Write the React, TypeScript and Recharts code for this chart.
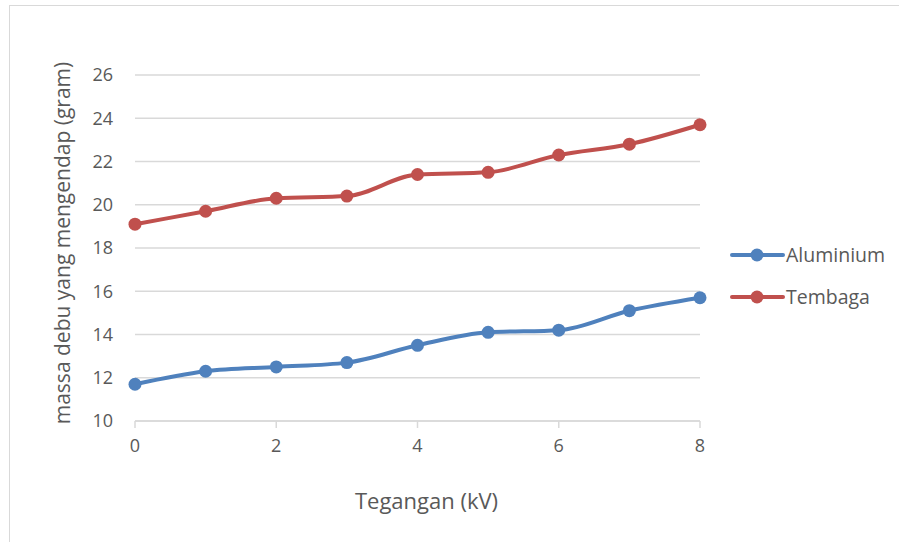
import React from "react";
import { LineChart, Line, XAxis, YAxis, CartesianGrid } from "recharts";

// Voltage (kV) steps
const voltages = [0, 1, 2, 3, 4, 5, 6, 7, 8];
// Settled dust mass (gram) per plate material
const aluminium = [11.7, 12.3, 12.5, 12.7, 13.5, 14.1, 14.2, 15.1, 15.7];
const tembaga = [19.1, 19.7, 20.3, 20.4, 21.4, 21.5, 22.3, 22.8, 23.7];
const xTicks = [0, 2, 4, 6, 8];
const yTicks = [10, 12, 14, 16, 18, 20, 22, 24, 26];

const seriesNames = ["Aluminium", "Tembaga"];
const colors = ["#4F81BD", "#C0504D"];

const data = voltages.map((v, i) => ({
  v,
  Aluminium: aluminium[i],
  Tembaga: tembaga[i],
}));

const FONT = "'Open Sans', sans-serif";
const TEXT = "#595959";

const LegendBox = () => (
  <svg width={170} height={80} style={{ position: "absolute", left: 729, top: 238 }}>
    {seriesNames.map((name, i) => {
      const y = 17 + i * 42;
      return (
        <g key={name}>
          <line x1={3} x2={54} y1={y} y2={y} stroke={colors[i]} strokeWidth={4} strokeLinecap="round" />
          <circle cx={28} cy={y} r={6.5} fill={colors[i]} />
          <text x={57} y={y} dy="0.36em" fontSize={19.5} fill={TEXT} fontFamily={FONT}>
            {name}
          </text>
        </g>
      );
    })}
  </svg>
);

export default function App() {
  return (
    <div
      style={{
        position: "absolute",
        left: 0,
        top: 0,
        width: 899,
        height: 542,
        background: "#fff",
        fontFamily: FONT,
      }}
    >
      <div
        style={{
          position: "absolute",
          left: 9,
          top: 5,
          width: 890,
          height: 537,
          borderLeft: "1.5px solid #d9d9d9",
          borderTop: "1.5px solid #d9d9d9",
        }}
      />
      <div style={{ position: "absolute", left: 0, top: 0 }}>
        <LineChart
          width={899}
          height={542}
          data={data}
          margin={{ top: 75, right: 199, left: 75, bottom: 71 }}
        >
          <CartesianGrid vertical={false} stroke="#d9d9d9" strokeWidth={1.5} />
          <XAxis
            dataKey="v"
            type="number"
            domain={[0, 8]}
            ticks={xTicks}
            stroke="#d9d9d9"
            strokeWidth={1.5}
            tickLine={{ stroke: "#d9d9d9" }}
            tickSize={7}
            height={50}
            tick={{ fill: TEXT, fontSize: 18, fontFamily: FONT }}
            tickMargin={11}
            label={{
              value: "Tegangan (kV)",
              position: "insideBottom",
              offset: -38,
              dx: 9,
              fill: TEXT,
              fontSize: 22,
              fontFamily: FONT,
            }}
          />
          <YAxis
            type="number"
            domain={[10, 26]}
            ticks={yTicks}
            width={60}
            axisLine={false}
            tickLine={false}
            tick={{ fill: TEXT, fontSize: 18, fontFamily: FONT }}
            tickMargin={16}
            label={{
              value: "massa debu yang mengendap (gram)",
              angle: -90,
              position: "insideLeft",
              offset: -12,
              dy: -5,
              style: { textAnchor: "middle" },
              fill: TEXT,
              fontSize: 21,
              fontFamily: FONT,
            }}
          />
          {seriesNames.map((name, i) => (
            <Line
              key={name}
              dataKey={name}
              type="monotone"
              stroke={colors[i]}
              strokeWidth={4}
              dot={{ r: 6.5, fill: colors[i], stroke: colors[i], strokeWidth: 0 }}
              activeDot={false}
              isAnimationActive={false}
            />
          ))}
        </LineChart>
      </div>
      <LegendBox />
    </div>
  );
}
